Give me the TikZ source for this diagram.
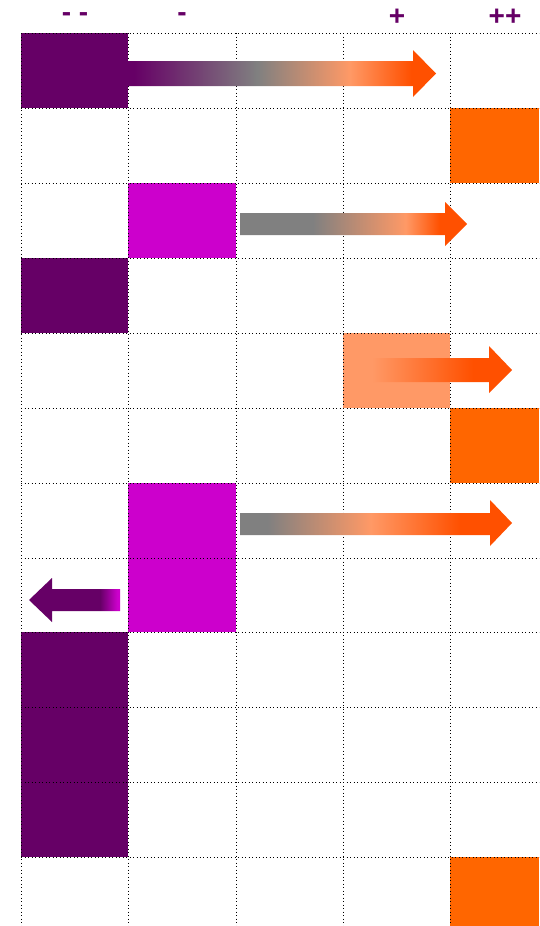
\documentclass[tikz,border=0pt]{standalone}
\usepackage{fontspec}
\setmainfont{Liberation Sans}
\definecolor{dpurple}{HTML}{660066}
\definecolor{magen}{HTML}{CC00CC}
\definecolor{orng}{HTML}{FF6600}
\definecolor{lorng}{HTML}{FF9966}
\definecolor{redorng}{HTML}{FF5000}
\definecolor{gry}{HTML}{808080}
\pgfdeclarehorizontalshading{arrA}{100bp}{color(0bp)=(dpurple); color(26bp)=(dpurple); color(46bp)=(gry); color(61bp)=(lorng); color(71bp)=(redorng); color(100bp)=(redorng)}
\pgfdeclarehorizontalshading{arrB}{100bp}{color(0bp)=(gry); color(41bp)=(gry); color(61.5bp)=(lorng); color(69bp)=(redorng); color(100bp)=(redorng)}
\pgfdeclarehorizontalshading{arrC}{100bp}{color(0bp)=(lorng); color(28bp)=(lorng); color(62bp)=(redorng); color(100bp)=(redorng)}
\pgfdeclarehorizontalshading{arrD}{100bp}{color(0bp)=(gry); color(30bp)=(gry); color(49bp)=(lorng); color(65.5bp)=(redorng); color(100bp)=(redorng)}
\pgfdeclarehorizontalshading{arrE}{100bp}{color(0bp)=(dpurple); color(64bp)=(dpurple); color(73.5bp)=(magen); color(100bp)=(magen)}
\tikzset{
  gridline/.style={black, line width=0.9pt, dash pattern=on 0.9pt off 2.6pt},
  lbl/.style={text=dpurple, font=\fontsize{28}{30}\selectfont\bfseries, inner sep=0pt}
}
\begin{document}
\begin{tikzpicture}[x=1pt,y=-1pt]
\useasboundingbox (0,0) rectangle (539,926);
\fill[white] (0,0) rectangle (539,926);
% boxes
\fill[dpurple] (21,33) rectangle (128,108);
\fill[orng] (450,108) rectangle (539,183);
\fill[magen] (128,183) rectangle (236,258);
\fill[dpurple] (21,258) rectangle (128,333);
\fill[lorng] (343,333) rectangle (450,408);
\fill[orng] (450,408) rectangle (539,483);
\fill[magen] (128,483) rectangle (236,632);
\fill[dpurple] (21,632) rectangle (128,857);
\fill[orng] (450,857) rectangle (539,926);
% grid
\foreach \x in {21,128,236,343,450} \draw[gridline] (\x,33) -- (\x,926);
\foreach \y in {33,108,183,258,333,408,483,558,632,707,782,857} \draw[gridline] (21,\y) -- (539,\y);
% labels
\node[lbl] (l1) at (75,17) {- -};
\node[lbl] (l2) at (182,17) {-};
\node[lbl] (l3) at (397,17) {+};
\node[lbl] (l4) at (505,17) {++};
% arrows
\shade[shading=arrA] (128,61) -- (413,61) -- (413,50) -- (436,73.5) -- (413,97) -- (413,86) -- (128,86) -- cycle;
\shade[shading=arrB] (240,213) -- (445,213) -- (445,202) -- (467,224) -- (445,246) -- (445,235) -- (240,235) -- cycle;
\shade[shading=arrC] (363,358) -- (489,358) -- (489,346) -- (512,370) -- (489,393) -- (489,382) -- (363,382) -- cycle;
\shade[shading=arrD] (240,513) -- (490,513) -- (490,500) -- (512,523) -- (490,546) -- (490,535) -- (240,535) -- cycle;
\shade[shading=arrE] (120,589) -- (52,589) -- (52,578) -- (29,600) -- (52,622) -- (52,611) -- (120,611) -- cycle;
\end{tikzpicture}
\end{document}
